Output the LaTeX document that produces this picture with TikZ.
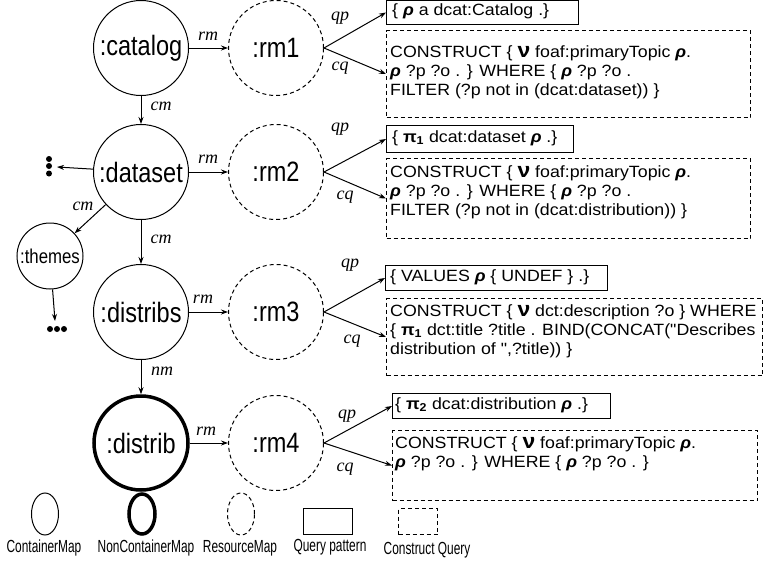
\documentclass[tikz,border=0pt]{standalone}
\usepackage{fontspec}
\setmainfont{Liberation Sans}
\newfontfamily\serifit{Liberation Serif}
\newfontfamily\narrowsans[FakeStretch=0.68]{Liberation Sans}
\newfontfamily\circsans[FakeStretch=0.84]{Liberation Sans}
\newfontfamily\widesans[FakeStretch=1.09]{Liberation Sans}
\usetikzlibrary{arrows.meta,shapes.geometric}
\newcommand\myrho{\textbf{\textit{ρ}}}
\newcommand\mynu{{\fontsize{21}{19}\selectfont\textbf{ν}}}
\newcommand\mypi[1]{\textbf{π\textsubscript{#1}}}
\tikzset{
  cmap/.style={circle, draw, line width=1pt, minimum size=95pt, inner sep=0pt, font=\circsans\fontsize{28}{30}\selectfont},
  ncmap/.style={cmap, line width=3.5pt, minimum size=94pt},
  rmap/.style={cmap, dash pattern=on 4pt off 3pt},
  arr/.style={-{Stealth[length=7pt,width=5pt]}, line width=1pt},
  lbl/.style={font=\serifit\itshape\fontsize{18}{20}\selectfont, inner sep=0pt},
  qbox/.style={draw, line width=1pt, anchor=north west, inner sep=0pt},
  cbox/.style={qbox, dash pattern=on 4pt off 3pt},
  btext/.style={anchor=west, align=left, inner sep=0pt, font=\widesans\fontsize{16.3}{19}\selectfont},
  legtext/.style={font=\narrowsans\fontsize{17.5}{19}\selectfont, inner sep=0pt},
  dotfill/.style={fill=black}
}
\begin{document}
\begin{tikzpicture}[x=1pt,y=-1pt]
\useasboundingbox (0,0) rectangle (763,562);
% container maps
\node[cmap] (catalog) at (141,48) {:catalog};
\node[cmap] (dataset) at (141,172) {:dataset};
\node[cmap] (distribs) at (141,312) {:distribs};
\node[ncmap] (distrib) at (141,443) {:distrib};
\node[cmap, minimum size=66pt, font=\circsans\fontsize{20}{22}\selectfont] (themes) at (50,256) {:themes};
% resource maps
\node[rmap] (rm1) at (276,48) {:rm1};
\node[rmap] (rm2) at (276,172) {:rm2};
\node[rmap] (rm3) at (276,312) {:rm3};
\node[rmap] (rm4) at (276,443) {:rm4};
% dots
\fill[dotfill] (49,159) circle (3pt) (49,166) circle (3pt) (49,173.5) circle (3pt);
\fill[dotfill] (50,329) circle (3pt) (57,329) circle (3pt) (64,329) circle (3pt);
\coordinate (vd) at (57,167);
\coordinate (hd) at (55,321);
% query boxes
\node[qbox, minimum width=192pt, minimum height=24pt] (qp1) at (386,0) {};
\node[cbox, minimum width=364pt, minimum height=87pt] (cq1) at (386,30) {};
\node[qbox, minimum width=187pt, minimum height=27pt] (qp2) at (386,125) {};
\node[cbox, minimum width=364pt, minimum height=80pt] (cq2) at (386,158) {};
\node[qbox, minimum width=222pt, minimum height=25pt] (qp3) at (385,265) {};
\node[cbox, minimum width=376pt, minimum height=77pt] (cq3) at (386,298) {};
\node[qbox, minimum width=218pt, minimum height=25pt] (qp4) at (392,393) {};
\node[cbox, minimum width=365pt, minimum height=70pt] (cq4) at (392,430) {};
% box texts
\node[btext] (t1) at (392,11) {\{ \myrho{} a dcat:Catalog .\}};
\node[btext] (t2) at (390,72) {CONSTRUCT \{ \mynu{} foaf:primaryTopic \myrho.\\ \myrho{} ?p ?o . \} WHERE \{ \myrho{} ?p ?o .\\ FILTER (?p not in (dcat:dataset)) \}};
\node[btext] (t3) at (392,138) {\{ \mypi{1} dcat:dataset \myrho{} .\}};
\node[btext] (t4) at (390,192) {CONSTRUCT \{ \mynu{} foaf:primaryTopic \myrho.\\ \myrho{} ?p ?o . \} WHERE \{ \myrho{} ?p ?o .\\ FILTER (?p not in (dcat:distribution)) \}};
\node[btext] (t5) at (390,277) {\{ VALUES \myrho{} \{ UNDEF \} .\}};
\node[btext] (t6) at (390,331) {CONSTRUCT \{ \mynu{} dct:description ?o \} WHERE\\ \{ \mypi{1} dct:title ?title . BIND(CONCAT("Describes\\ distribution of ",?title)) \}};
\node[btext] (t7) at (395,405) {\{ \mypi{2} dcat:distribution \myrho{} .\}};
\node[btext] (t8) at (395,454) {CONSTRUCT \{ \mynu{} foaf:primaryTopic \myrho.\\ \myrho{} ?p ?o . \} WHERE \{ \myrho{} ?p ?o . \}};
% connectors
\draw[arr] (catalog) -- (rm1);
\draw[arr] (dataset) -- (rm2);
\draw[arr] (distribs) -- (rm3);
\draw[arr] (distrib) -- (rm4);
\draw[arr] (catalog) -- (dataset);
\draw[arr] (dataset) -- (distribs);
\draw[arr] (distribs) -- (distrib);
\draw[arr] (dataset) -- (themes);
\draw[arr] (dataset) -- (vd);
\draw[arr] (themes) -- (hd);
\draw[arr] (rm1.east) -- (qp1.west);
\draw[arr] (rm1.east) -- (cq1.west);
\draw[arr] (rm2.east) -- (qp2.west);
\draw[arr] (rm2.east) -- (cq2.west);
\draw[arr] (rm3.east) -- (qp3.west);
\draw[arr] (rm3.east) -- (cq3.west);
\draw[arr] (rm4.east) -- (qp4.west);
\draw[arr] (rm4.east) -- (cq4.west);
% edge labels
\node[lbl] (l1) at (208,36) {rm};
\node[lbl] (l2) at (208,159) {rm};
\node[lbl] (l3) at (203,299) {rm};
\node[lbl] (l4) at (206,431) {rm};
\node[lbl] (l5) at (161,106) {cm};
\node[lbl] (l6) at (161,239) {cm};
\node[lbl] (l7) at (83,206) {cm};
\node[lbl] (l8) at (162,371) {nm};
\node[lbl] (l9) at (340,18) {qp};
\node[lbl] (l10) at (340,68) {cq};
\node[lbl] (l11) at (340,129) {qp};
\node[lbl] (l12) at (345,197) {cq};
\node[lbl] (l13) at (350,265) {qp};
\node[lbl] (l14) at (352,341) {cq};
\node[lbl] (l15) at (347,416) {qp};
\node[lbl] (l16) at (345,469) {cq};
% legend
\node[ellipse, draw, line width=1pt, minimum width=27pt, minimum height=42pt, inner sep=0pt] (lg1) at (45,514) {};
\node[ellipse, draw, line width=3.5pt, minimum width=26pt, minimum height=40pt, inner sep=0pt] (lg2) at (142,514) {};
\node[ellipse, draw, line width=1pt, dash pattern=on 4pt off 3pt, minimum width=27pt, minimum height=42pt, inner sep=0pt] (lg3) at (241,514) {};
\node[qbox, minimum width=49pt, minimum height=26pt] (lg4) at (303,508) {};
\node[cbox, minimum width=39pt, minimum height=26pt] (lg5) at (398,508) {};
\node[legtext] (lt1) at (44,548) {ContainerMap};
\node[legtext] (lt2) at (146,548) {NonContainerMap};
\node[legtext] (lt3) at (240,548) {ResourceMap};
\node[legtext] (lt4) at (330,547) {Query pattern};
\node[legtext] (lt5) at (427,550) {Construct Query};
\end{tikzpicture}
\end{document}
